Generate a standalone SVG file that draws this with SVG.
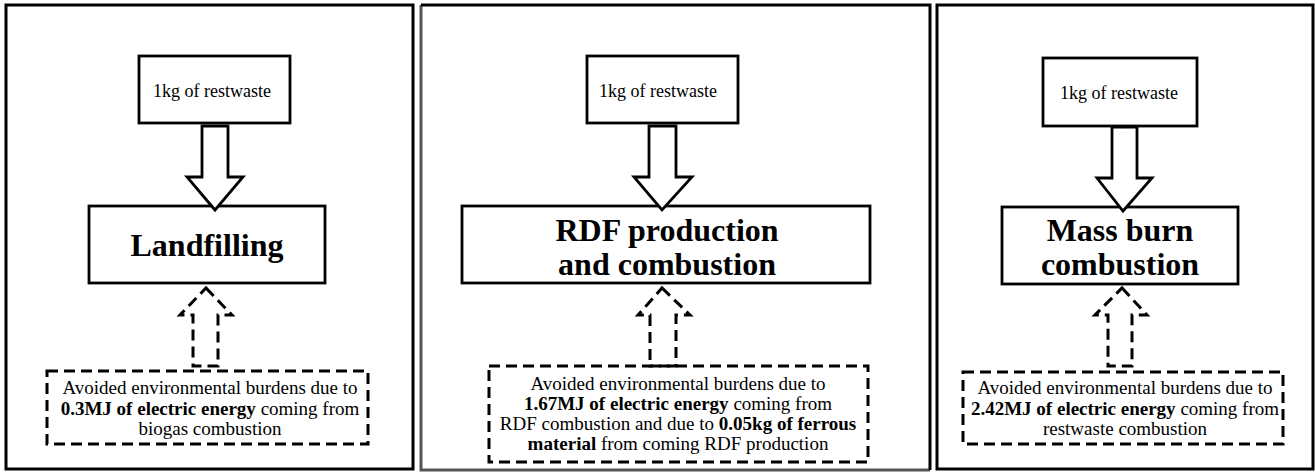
<svg xmlns="http://www.w3.org/2000/svg" width="1315" height="472" viewBox="0 0 1315 472">
<style>
.panel{fill:#fff;stroke:#000;stroke-width:3}
.pline{stroke-width:3;fill:none}
.box{fill:#fff;stroke:#000;stroke-width:2.8}
.dbox{fill:none;stroke:#000;stroke-width:3;stroke-dasharray:11 6}
.arr{fill:#fff;stroke:#000;stroke-width:2.8;stroke-linejoin:miter}
.darr{fill:none;stroke:#000;stroke-width:3;stroke-dasharray:11 6}
text{font-family:"Liberation Serif","Times New Roman",serif;fill:#000}
.small{font-size:18px;text-anchor:middle}
.big{font-size:32px;font-weight:bold;text-anchor:middle}
.note{font-size:19px;text-anchor:middle}
.b{font-weight:bold}
</style>
<rect width="1315" height="472" fill="#fff"/>
<g id="panel1">
<rect class="panel" x="6" y="5" width="407" height="464"/>
</g>
<g id="panel2">
<path class="pline" d="M421,5 V470 H930" stroke="#555"/>
<path class="pline" d="M421,5 H930 V470" stroke="#000"/>
</g>
<g id="panel3">
<rect class="panel" x="937" y="5" width="376" height="464"/>
</g>
<g id="input1">
<rect class="box" x="139" y="56" width="151" height="67"/>
<text class="small" x="212" y="97">1kg of restwaste</text>
</g>
<g id="landfilling">
<rect class="box" x="89" y="206" width="236" height="77"/>
<text class="big" x="207" y="256">Landfilling</text>
</g>
<g id="avoided1">
<rect class="dbox" x="47" y="371" width="321" height="73"/>
<text class="note" x="210" y="394">Avoided environmental burdens due to</text>
<text class="note" x="210" y="415"><tspan class="b">0.3MJ of electric energy</tspan> coming from</text>
<text class="note" x="210" y="435">biogas combustion</text>
</g>
<g id="input2">
<rect class="box" x="587" y="56" width="151" height="67"/>
<text class="small" x="658" y="97">1kg of restwaste</text>
</g>
<g id="rdf">
<rect class="box" x="462" y="206" width="408" height="77"/>
<text class="big" x="667" y="241">RDF production</text>
<text class="big" x="667" y="275">and combustion</text>
</g>
<g id="avoided2">
<rect class="dbox" x="489" y="366" width="379" height="96"/>
<text class="note" x="678" y="390">Avoided environmental burdens due to</text>
<text class="note" x="678" y="410"><tspan class="b">1.67MJ of electric energy</tspan> coming from</text>
<text class="note" x="678" y="430">RDF combustion and due to <tspan class="b">0.05kg of ferrous</tspan></text>
<text class="note" x="678" y="450"><tspan class="b">material</tspan> from coming RDF production</text>
</g>
<g id="input3">
<rect class="box" x="1043" y="58" width="154" height="68"/>
<text class="small" x="1119" y="99">1kg of restwaste</text>
</g>
<g id="massburn">
<rect class="box" x="1002" y="207" width="236" height="77"/>
<text class="big" x="1120" y="241">Mass burn</text>
<text class="big" x="1120" y="275">combustion</text>
</g>
<g id="avoided3">
<rect class="dbox" x="963" y="372" width="320" height="72"/>
<text class="note" x="1125" y="394">Avoided environmental burdens due to</text>
<text class="note" x="1125" y="415"><tspan class="b">2.42MJ of electric energy</tspan> coming from</text>
<text class="note" x="1125" y="435">restwaste combustion</text>
</g>
<g id="connectors">
<path class="arr" d="M202,126 H228 V177 H243 L215,210 L187,177 H202 Z"/>
<path class="arr" d="M649,126 H676 V177 H692 L662,210 L634,177 H649 Z"/>
<path class="arr" d="M1112,127 H1137 V178 H1152 L1123,211 L1097,178 H1112 Z"/>
<path class="darr" d="M206,288 L232,315 H218 V366 H193 V315 H180 Z"/>
<path class="darr" d="M662,288 L690,315 H676 V366 H650 V315 H638 Z"/>
<path class="darr" d="M1122,288 L1147,315 H1132 V366 H1108 V315 H1095 Z"/>
</g>
</svg>
